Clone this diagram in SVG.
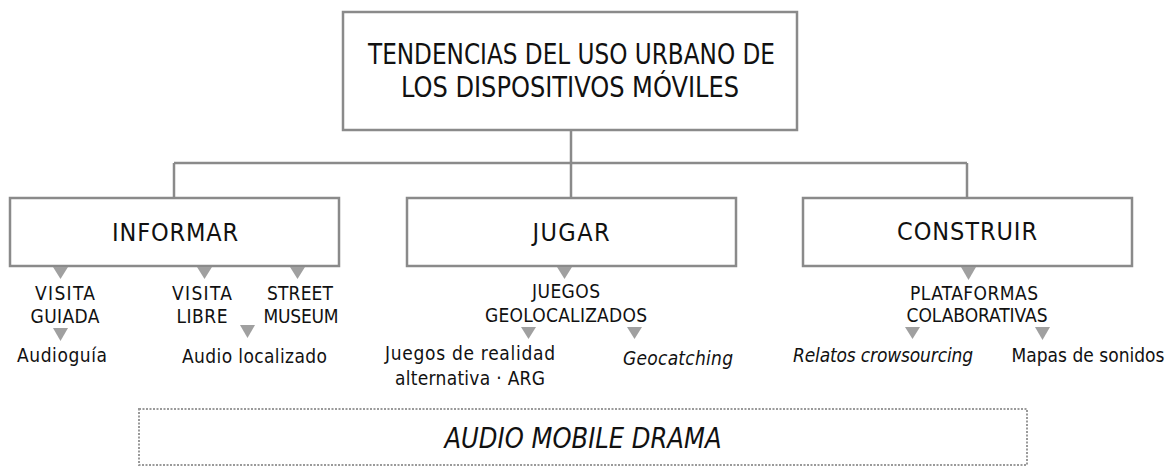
<svg xmlns="http://www.w3.org/2000/svg" width="1169" height="466" viewBox="0 0 1169 466">
<style>
.box{fill:#fff;stroke:#8a8a8a;stroke-width:2.5}
.ln{fill:none;stroke:#8a8a8a;stroke-width:2.5}
.dot{fill:none;stroke:#9a9a9a;stroke-width:2;stroke-dasharray:2 1.5}
.tri{fill:#a0a0a0}
text{font-family:"DejaVu Sans Condensed","DejaVu Sans",sans-serif;font-stretch:condensed;fill:#111;text-anchor:middle}
.t1{font-size:27.5px}
.t2{font-size:25px}
.t3{font-size:19px}
.t4{font-size:28px}
.it{font-style:italic}
</style>
<g id="connectors">
<path class="ln" d="M571 130 V163 M174 163 H967 M174 163 V198 M571 163 V198 M967 163 V198"/>
</g>
<g id="root">
<rect class="box" x="343" y="12" width="454" height="118"/>
<text class="t1" x="571.5" y="64" textLength="407" lengthAdjust="spacingAndGlyphs">TENDENCIAS DEL USO URBANO DE</text>
<text class="t1" x="570" y="97" textLength="338" lengthAdjust="spacingAndGlyphs">LOS DISPOSITIVOS MÓVILES</text>
</g>
<g id="informar">
<rect class="box" x="10" y="198" width="329" height="68"/>
<text class="t2" x="175" y="241" textLength="126">INFORMAR</text>
<polygon class="tri" points="53,267 68,267 60.5,279"/>
<polygon class="tri" points="197,267 212,267 204.5,279"/>
<polygon class="tri" points="290,267 305,267 297.5,279"/>
<text class="t3" x="65" y="300" textLength="60">VISITA</text>
<text class="t3" x="65" y="323" textLength="69">GUIADA</text>
<text class="t3" x="202" y="300" textLength="60">VISITA</text>
<text class="t3" x="202" y="323" textLength="51">LIBRE</text>
<text class="t3" x="300" y="300" textLength="66">STREET</text>
<text class="t3" x="301" y="323" textLength="75">MUSEUM</text>
<polygon class="tri" points="53,328 68,328 60.5,341"/>
<polygon class="tri" points="240,325 255,325 247.5,338"/>
<text class="t3" x="62" y="362" textLength="90">Audioguía</text>
<text class="t3" x="254.5" y="363" textLength="145">Audio localizado</text>
</g>
<g id="jugar">
<rect class="box" x="407" y="198" width="329" height="68"/>
<text class="t2" x="571" y="241" textLength="77">JUGAR</text>
<polygon class="tri" points="557,267 572,267 564.5,279"/>
<text class="t3" x="566" y="298" textLength="68">JUEGOS</text>
<text class="t3" x="566" y="322" textLength="162">GEOLOCALIZADOS</text>
<polygon class="tri" points="521,327 536,327 528.5,339"/>
<polygon class="tri" points="627,327 642,327 634.5,339"/>
<text class="t3" x="470" y="360" textLength="170">Juegos de realidad</text>
<text class="t3" x="470" y="385" textLength="150">alternativa · ARG</text>
<text class="t3 it" x="678" y="365" textLength="110">Geocatching</text>
</g>
<g id="construir">
<rect class="box" x="803" y="198" width="329" height="68"/>
<text class="t2" x="967" y="240" textLength="140">CONSTRUIR</text>
<polygon class="tri" points="961,267 976,267 968.5,280"/>
<text class="t3" x="974" y="300" textLength="128">PLATAFORMAS</text>
<text class="t3" x="977" y="322" textLength="141">COLABORATIVAS</text>
<polygon class="tri" points="905,327 920,327 912.5,339"/>
<polygon class="tri" points="1035,327 1050,327 1042.5,340"/>
<text class="t3 it" x="883" y="362" textLength="180">Relatos crowsourcing</text>
<text class="t3" x="1088" y="362" textLength="153">Mapas de sonidos</text>
</g>
<g id="audio-mobile-drama">
<rect class="dot" x="139" y="409" width="888" height="56"/>
<text class="t4 it" x="583" y="448" textLength="277" lengthAdjust="spacingAndGlyphs">AUDIO MOBILE DRAMA</text>
</g>
</svg>
